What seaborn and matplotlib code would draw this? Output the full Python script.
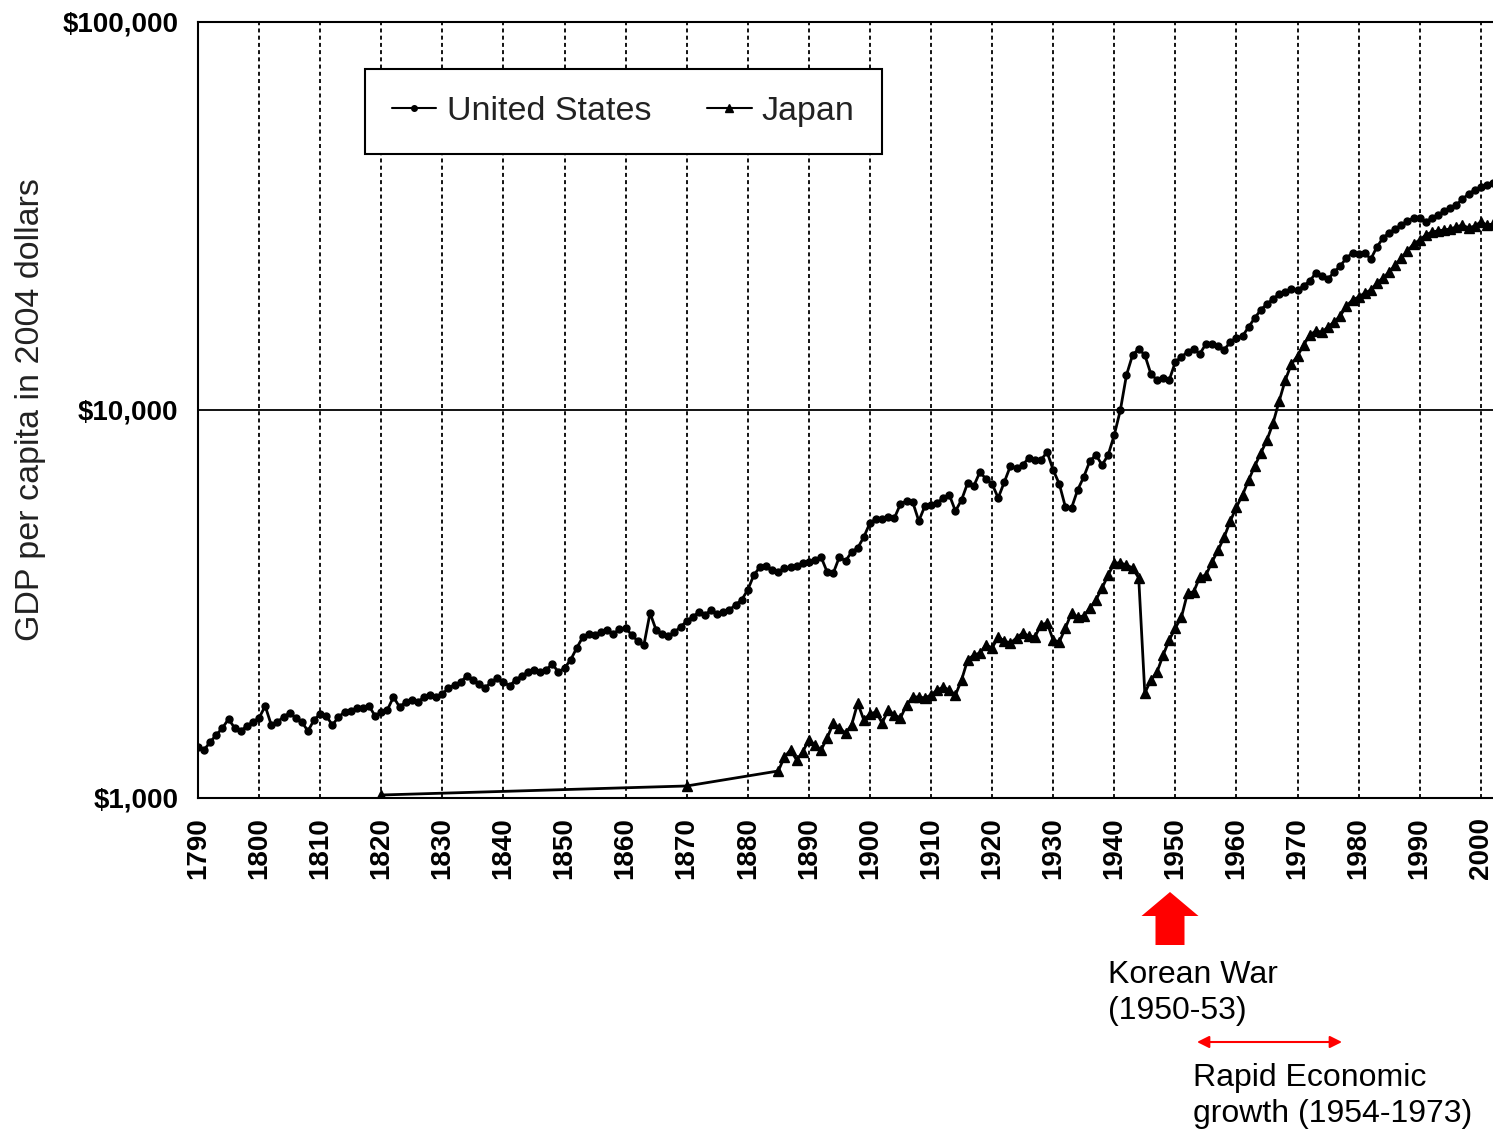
import numpy as np
import pandas as pd
import matplotlib
matplotlib.use("Agg")
import matplotlib.pyplot as plt
from matplotlib.lines import Line2D
from matplotlib.patches import FancyArrow
from matplotlib.ticker import NullLocator, FixedLocator
import seaborn as sns

#%% data (GDP per capita, 2004 dollars)
us_years = list(range(1790, 2003))
us_gdp = [
    1350, 1330, 1395, 1454, 1515, 1598, 1515, 1488, 1533, 1570,   # 1790s
    1608, 1726, 1542, 1570, 1618, 1656, 1608, 1570, 1488, 1589,   # 1800s
    1647, 1627, 1542, 1618, 1666, 1676, 1706, 1706, 1726, 1627,   # 1810s
    1666, 1687, 1821, 1716, 1767, 1790, 1767, 1821, 1843, 1821,   # 1820s
    1853, 1921, 1956, 1990, 2063, 2015, 1967, 1921, 1990, 2038,   # 1830s
    1990, 1944, 2015, 2063, 2111, 2138, 2111, 2138, 2215, 2111,   # 1840s
    2163, 2269, 2436, 2601, 2647, 2632, 2678, 2710, 2647, 2727,   # 1850s
    2743, 2632, 2538, 2480, 2998, 2710, 2647, 2616, 2678, 2759,   # 1860s
    2858, 2928, 3016, 2963, 3054, 2981, 3016, 3054, 3145, 3240,   # 1870s
    3439, 3756, 3939, 3963, 3871, 3823, 3916, 3939, 3963, 4034,   # 1880s
    4057, 4106, 4180, 3823, 3801, 4180, 4081, 4305, 4409, 4707,   # 1890s
    5114, 5237, 5237, 5300, 5268, 5724, 5827, 5793, 5175, 5657,   # 1900s
    5690, 5758, 5933, 6040, 5490, 5865, 6484, 6370, 6920, 6640,   # 1910s
    6446, 5933, 6522, 7172, 7088, 7216, 7522, 7432, 7432, 7793,   # 1920s
    7005, 6446, 5623, 5590, 6220, 6720, 7386, 7657, 7216, 7657,   # 1930s
    8622, 10000, 12310, 13860, 14370, 13860, 12380, 11950, 12090, 11950,  # 1940s
    13300, 13700, 14120, 14370, 13950, 14800, 14800, 14620, 14290, 14980,  # 1950s
    15330, 15510, 16370, 17270, 18120, 18760, 19330, 19910, 20140, 20500,  # 1960s
    20380, 20880, 21500, 22550, 22150, 21760, 22680, 23510, 24650, 25390,  # 1970s
    25240, 25390, 24500, 26320, 27760, 28600, 29280, 29980, 30700, 31250,  # 1980s
    31250, 30520, 31250, 31810, 32570, 33160, 33760, 34980, 36020, 36900,  # 1990s
    37560, 38010, 38460,                                                   # 2000s
]

jp_years = [1820, 1870] + list(range(1885, 2003))
jp_gdp = [
    1018, 1074,
    1174, 1276, 1330, 1253, 1315,                                  # 1885-89
    1412, 1370, 1330, 1428, 1560, 1515, 1471, 1542, 1757, 1589,   # 1890s
    1647, 1666, 1560, 1687, 1637, 1608, 1737, 1821, 1821, 1810,   # 1900s
    1843, 1897, 1932, 1897, 1843, 2015, 2269, 2336, 2364, 2480,   # 1910s
    2436, 2601, 2538, 2509, 2585, 2662, 2616, 2601, 2793, 2826,   # 1920s
    2554, 2524, 2743, 2998, 2928, 2946, 3089, 3240, 3477, 3756,   # 1930s
    4034, 4034, 3987, 3916, 3690, 1864, 2015, 2111, 2336, 2554,   # 1940s
    2743, 2928, 3377, 3398, 3712, 3756, 4057, 4354, 4707, 5175,   # 1950s
    5623, 6040, 6600, 7172, 7750, 8370, 9260, 10550, 11950, 13130,  # 1960s
    13780, 14710, 15610, 15980, 15880, 16370, 16880, 17480, 18540, 19210,  # 1970s
    19560, 20020, 20380, 21250, 21890, 22680, 23650, 24650, 25700, 26800,  # 1980s
    27430, 28250, 28760, 28940, 29110, 29280, 29630, 29980, 29450, 29800,  # 1990s
    30520, 29980, 30160,                                                   # 2000s
]

decades = list(range(1790, 2001, 10))
y_ticks = [1000, 10000, 100000]
y_ticklabels = ['$1,000', '$10,000', '$100,000']

df_us = pd.DataFrame({'year': us_years, 'gdp': us_gdp})
df_jp = pd.DataFrame({'year': jp_years, 'gdp': jp_gdp})

#%% style
sns.set_theme(style='white')
plt.rcParams['font.family'] = ['Liberation Sans', 'DejaVu Sans']

W, H = 1493, 1138
fig = plt.figure(figsize=(W / 100, H / 100), dpi=100)
ax = fig.add_axes([198 / W, 1 - 798 / H, 1 - 198 / W, (798 - 22) / H])

sns.lineplot(data=df_us, x='year', y='gdp', ax=ax, color='black', lw=2,
             marker='o', markersize=5, markeredgecolor='black', markeredgewidth=1)
sns.lineplot(data=df_jp, x='year', y='gdp', ax=ax, color='black', lw=2,
             marker='^', markersize=7, markeredgecolor='black', markeredgewidth=1)

ax.set_yscale('log')
ax.set_ylim(1000, 100000)
ax.set_xlim(1790, 2002)
ax.yaxis.set_major_locator(FixedLocator(y_ticks))
ax.yaxis.set_minor_locator(NullLocator())
ax.set_yticklabels(y_ticklabels, fontsize=20, fontweight='bold')
ax.set_xticks(decades)
ax.set_xticklabels([str(d) for d in decades], rotation=90, fontsize=20, fontweight='bold')

ax.tick_params(axis='y', length=0, pad=14, colors='black')
ax.tick_params(axis='x', direction='inout', length=8, width=1.2, pad=10, colors='black')

ax.set_axisbelow(True)
ax.grid(axis='x', color='black', linestyle=(0, (2.2, 1.8)), linewidth=1.3)
ax.grid(axis='y', visible=False)
ax.axhline(10000, color='black', lw=1.3, zorder=1)

for s in ['left', 'bottom', 'top']:
    ax.spines[s].set_color('black')
    ax.spines[s].set_linewidth(1.5)
ax.spines['right'].set_visible(False)

ax.set_xlabel('')
ax.set_ylabel('GDP per capita in 2004 dollars', fontsize=24.5, color='#222222')
ax.yaxis.set_label_coords(-0.117, 0.5)

# legend
handles = [Line2D([], [], color='black', lw=1.5, marker='o', markersize=4),
           Line2D([], [], color='black', lw=1.5, marker='^', markersize=6)]
leg = ax.legend(handles, ['United States', 'Japan'], ncol=2, loc='upper left',
                bbox_to_anchor=((365 - 198) / 1295, (798 - 69) / 776), borderaxespad=0,
                fontsize=24.5, frameon=True, fancybox=False, framealpha=1,
                edgecolor='black', borderpad=0.8, handlelength=1.3,
                handletextpad=0.3, columnspacing=1.65)
leg.get_frame().set_linewidth(1.5)
for t in leg.get_texts():
    t.set_color('#222222')

#%% annotations below the chart, in pixel units
ov = fig.add_axes([0, 0, 1, 1], facecolor='none')
ov.set_xlim(0, W)
ov.set_ylim(H, 0)
ov.axis('off')

ov.add_patch(FancyArrow(1170, 945, 0, -53, width=29, head_width=57, head_length=24,
                        length_includes_head=True, color='red', lw=0))
ov.text(1108, 960, 'Korean War\n(1950-53)', fontsize=23, va='top', ha='left',
        color='black', linespacing=1.27)
ov.annotate('', xy=(1342, 1042), xytext=(1197, 1042),
            arrowprops=dict(arrowstyle='<|-|>', color='red', lw=1.5,
                            mutation_scale=18, shrinkA=0, shrinkB=0))
ov.text(1193, 1063, 'Rapid Economic\ngrowth (1954-1973)', fontsize=23, va='top',
        ha='left', color='black', linespacing=1.27)

fig.savefig('out.png', dpi=100)
